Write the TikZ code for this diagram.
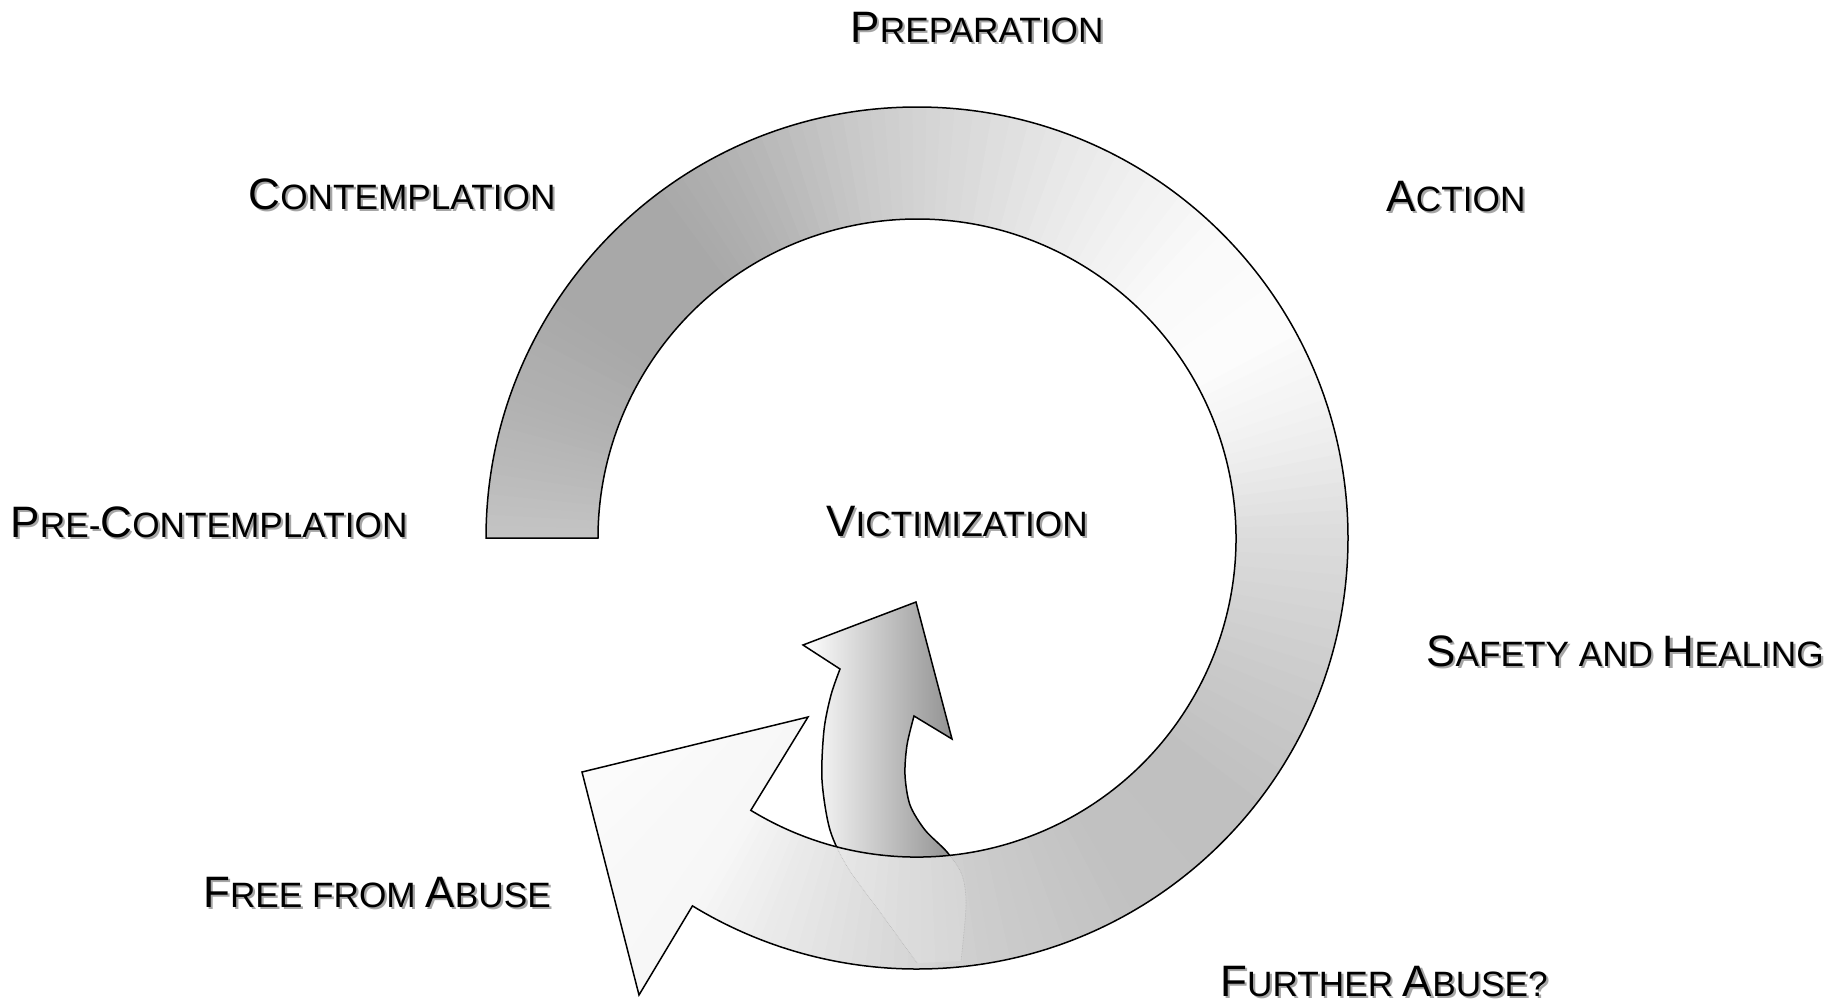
\documentclass[tikz,border=0pt]{standalone}
\usepackage{fontspec}
\setmainfont{Liberation Sans}
\usetikzlibrary{calc}
\definecolor{sdark}{HTML}{888888}
\newcommand\sml[1]{{\fontsize{35.2pt}{38pt}\selectfont #1}}
\tikzset{
  lbltext/.style={anchor=base, inner sep=0pt, text=black, font=\fontsize{44pt}{46pt}\selectfont},
  lblshadow/.style={anchor=base, inner sep=0pt, text=black!35, font=\fontsize{44pt}{46pt}\selectfont},
  outline/.style={draw=black, line width=1.5pt, line join=miter},
}
\newcommand\lbl[4]{%
  \node[lblshadow] (#3-s) at (#1+2.2,#2-2.2) {#4};
  \node[lbltext] (#3) at (#1,#2) {#4};}
\begin{document}
\begin{tikzpicture}[x=1pt,y=1pt]
\useasboundingbox (0,0) rectangle (1841,-1007);
\fill[white] (0,0) rectangle (1841,-1007);

% small inner arrow (drawn first, ring passes over its tail)
\shade[left color=white, right color=sdark, outline]
  plot[smooth] coordinates {(917,-963) (880,-912) (848,-868) (830,-830) (822,-780) (824,-730) (831,-695) (840,-669)}
  -- (803,-645) -- (916,-602) -- (952,-739) -- (914,-716)
  -- plot[smooth] coordinates {(914,-716) (907,-745) (905,-775) (910,-805) (925,-830) (947,-852) (962,-875) (966,-905) (961,-961)}
  -- cycle;

% ring with conic gradient
\begin{scope}
\clip (486,-538) arc[start angle=180,end angle=-121.4,radius=431] -- (639,-995) -- (582,-772) -- (808,-717) -- (750.8,-810.3) arc[start angle=-121.4,end angle=180,radius=319] -- cycle;
\foreach \aa/\ab/\ga/\gb in {181/170/198/186, 170/160/186/177, 160/145/177/168, 145/128/168/168, 128/115/168/180, 115/100/180/200, 100/85/200/216, 85/65/216/236, 65/45/236/250, 45/30/250/253, 30/15/253/240, 15/0/240/220, 0/-20/220/204, -20/-40/204/192, -40/-60/192/194, -60/-80/194/205, -80/-95/205/218, -95/-110/218/234, -110/-121/234/247, -121/-152/247/253}{
  \foreach \i in {0,...,7}{
    \pgfmathsetmacro\s{(\aa)+((\ab)-(\aa))*\i/8}
    \pgfmathsetmacro\e{(\aa)+((\ab)-(\aa))*(\i+1.4)/8}
    \pgfmathtruncatemacro\g{(\ga)+((\gb)-(\ga))*(\i+0.5)/8}
    \definecolor{wc}{RGB}{\g,\g,\g}
    \fill[wc] (917,-538) -- ++(\s:620) arc[start angle=\s,end angle=\e,radius=620] -- cycle;
  }
}
% tail of the small arrow seen through the ring
\fill[white, fill opacity=0.15]
  plot[smooth] coordinates {(917,-963) (880,-912) (848,-868) (830,-830) (822,-780)}
  -- (950,-780)
  -- plot[smooth] coordinates {(910,-805) (925,-830) (947,-852) (962,-875) (966,-905) (961,-961)}
  -- cycle;
\draw[black!30, densely dotted, line width=0.6pt]
  plot[smooth] coordinates {(917,-963) (880,-912) (848,-868) (830,-830) (822,-780)};
\draw[black!30, densely dotted, line width=0.6pt]
  plot[smooth] coordinates {(910,-805) (925,-830) (947,-852) (962,-875) (966,-905) (961,-961)};
\end{scope}
\draw[outline] (486,-538) arc[start angle=180,end angle=-121.4,radius=431] -- (639,-995) -- (582,-772) -- (808,-717) -- (750.8,-810.3) arc[start angle=-121.4,end angle=180,radius=319] -- cycle;

% labels
\lbl{977}{-42}{prep}{P\sml{REPARATION}}
\lbl{402}{-209}{cont}{C\sml{ONTEMPLATION}}
\lbl{1456}{-211}{action}{A\sml{CTION}}
\lbl{209}{-537}{precont}{P\sml{RE-}C\sml{ONTEMPLATION}}
\lbl{957}{-536}{vict}{V\sml{ICTIMIZATION}}
\lbl{1625}{-666}{safety}{S\sml{AFETY AND }H\sml{EALING}}
\lbl{377}{-907}{free}{F\sml{REE FROM }A\sml{BUSE}}
\lbl{1384}{-996}{further}{F\sml{URTHER }A\sml{BUSE?}}
\end{tikzpicture}
\end{document}
